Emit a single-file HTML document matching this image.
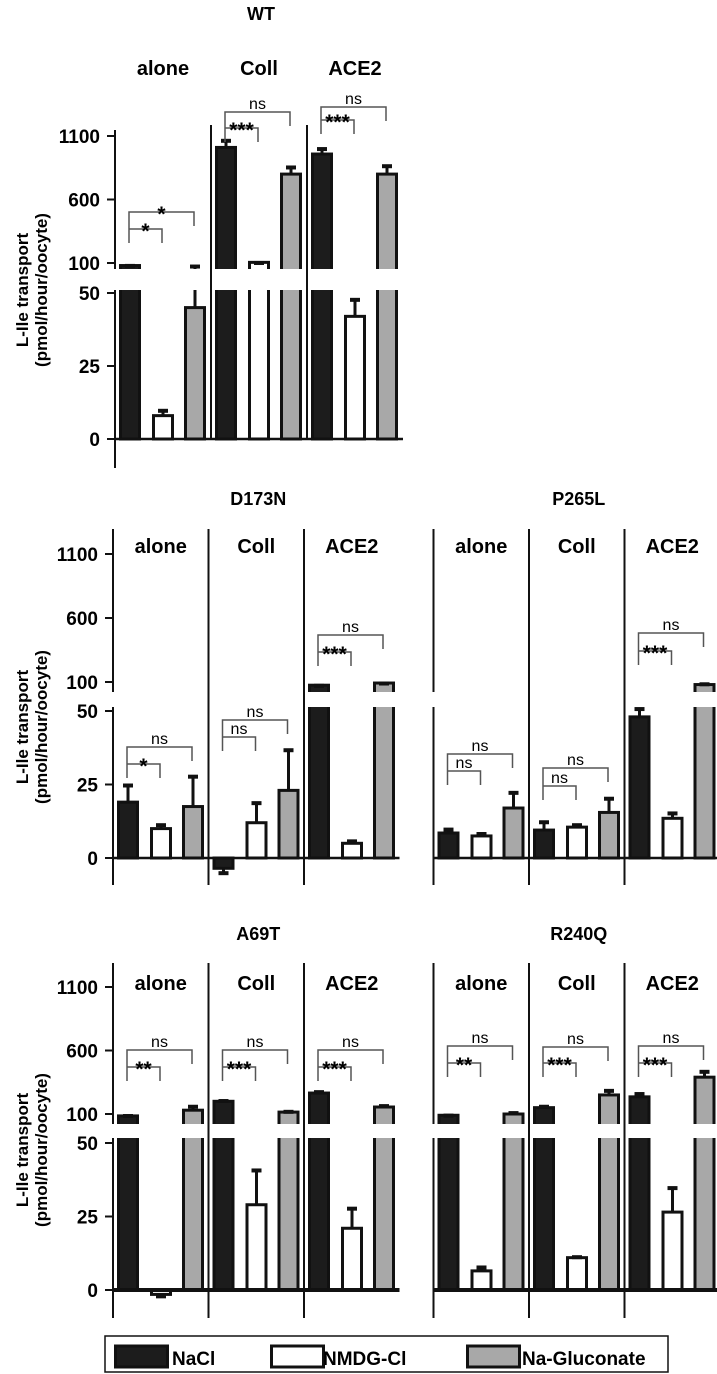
<!DOCTYPE html>
<html><head><meta charset="utf-8"><style>
html,body{margin:0;padding:0;background:#fff;}
svg{display:block;font-family:"Liberation Sans",Arial,sans-serif;}
</style></head><body>
<svg id="chart" width="717" height="1374" viewBox="0 0 717 1374" xmlns="http://www.w3.org/2000/svg"></svg>
<script>
const groups = ['alone','Coll','ACE2'];
const seriesNames = ['NaCl','NMDG-Cl','Na-Gluconate'];
const yTickLabels = ['1100','600','100','50','25','0'];
const yTickValues = [1100,600,100,50,25,0];
const wtMeans = [[80,8,45],[1010,105,800],[958,42,800]];
const wtErrs = [[5,2,35],[60,3,60],[47,6,70]];
const wtSig = [['*','*'],['***','ns'],['***','ns']];
const d173nMeans = [[19,10,17.5],[-3.5,12,23],[75,5,92]];
const d173nErrs = [[6,1.5,10.5],[-2,7,14],[3,1,4]];
const d173nSig = [['*','ns'],['ns','ns'],['***','ns']];
const p265lMeans = [[8.5,7.5,17],[9.5,10.5,15.5],[48,13.5,80]];
const p265lErrs = [[1.5,1,5.5],[3,1,5],[3,2,10]];
const p265lSig = [['ns','ns'],['ns','ns'],['***','ns']];
const a69tMeans = [[85,-1.5,130],[200,29,115],[265,21,155]];
const a69tErrs = [[7,-1,35],[10,12,10],[15,7,15]];
const a69tSig = [['**','ns'],['***','ns'],['***','ns']];
const r240qMeans = [[90,6.5,100],[150,11,250],[235,26.5,390]];
const r240qErrs = [[5,1.5,15],[15,0.5,40],[30,8.5,50]];
const r240qSig = [['**','ns'],['***','ns'],['***','ns']];

const fills = ['#1c1c1c','#ffffff','#a8a8a8'];
const NS = 'http://www.w3.org/2000/svg';
const svg = document.getElementById('chart');
function mk(tag, attrs, parent){const e=document.createElementNS(NS,tag);for(const k in attrs)e.setAttribute(k,attrs[k]);(parent||svg).appendChild(e);return e;}
function txt(s, attrs, parent){const e=mk('text',attrs,parent);e.textContent=s;return e;}

const row2 = {gw:95.5, top:529, bottom:885, divTop:529, divBottom:885, y0:858,y50:711,y100:682,y1100:554, band:[692,707], titleY:505, subY:553, zw:2.5, labY:727};
const row3 = {gw:95.5, top:963, bottom:1318, divTop:963, divBottom:1318, y0:1290,y50:1143,y100:1114,y1100:987, band:[1124,1138], titleY:940, subY:990, zw:4, labY:1150};
const panels = [
 {name:'WT', means:wtMeans, errs:wtErrs, sig:wtSig, left:true, L:{ax:115, gw:96, top:130, bottom:468, divTop:125, divBottom:439, y0:439,y50:293,y100:263,y1100:136, band:[269,290], titleY:20, subY:75, zw:2.5, labY:290, br:[[212,229],[112,128],[107,120]]}},
 {name:'D173N', means:d173nMeans, errs:d173nErrs, sig:d173nSig, left:true, L:Object.assign({ax:113, br:[[747,764],[720,737],[635,652]]},row2)},
 {name:'P265L', means:p265lMeans, errs:p265lErrs, sig:p265lSig, left:false, L:Object.assign({ax:433.5, br:[[754,771],[768,786],[633,651]]},row2)},
 {name:'A69T', means:a69tMeans, errs:a69tErrs, sig:a69tSig, left:true, L:Object.assign({ax:113, br:[[1050,1067],[1050,1067],[1050,1067]]},row3)},
 {name:'R240Q', means:r240qMeans, errs:r240qErrs, sig:r240qSig, left:false, L:Object.assign({ax:433.5, br:[[1046,1063],[1047,1063],[1046,1063]]},row3)}
];
const offs=[4,37,69], bw=22;

panels.forEach(p=>{
  const L=p.L;
  const g=mk('g',{});
  
  
  const y=v=> v<=60 ? L.y0 - v*(L.y0-L.y50)/50 : L.y100 - (v-100)*(L.y100-L.y1100)/1000;
  const end=L.ax+3*L.gw;
  const t=txt(p.name,{x:L.ax+1.5*L.gw+2,y:L.titleY,'text-anchor':'middle','font-size':18,'font-weight':'bold'},g);
  
  
  p.means.forEach((row,gi)=>{
    row.forEach((m,si)=>{
      const x=L.ax+gi*L.gw+offs[si];
      const y0=y(0), ym=y(m);
      const b=mk('rect',{x:x+1.5,y:Math.min(y0,ym),width:bw-3,height:Math.max(1,Math.abs(y0-ym)),fill:fills[si],stroke:'#111','stroke-width':3},g);
      
      
      const e=p.errs[gi][si];
      const ye=y(m+e), cx=x+bw/2;
      const el=mk('line',{x1:cx,x2:cx,y1:ym,y2:ye,stroke:'#111','stroke-width':3},g);
      
      
      mk('rect',{x:cx-5,y:(e>=0?ye-1:ye-3),width:10,height:4,fill:'#111'},g);
    });
  });
  const z=mk('line',{x1:L.ax,x2:end,y1:L.y0,y2:L.y0,stroke:'#111','stroke-width':L.zw},g);
  
  
  mk('rect',{x:L.ax-12,y:L.band[0],width:end-L.ax+14,height:L.band[1]-L.band[0],fill:'#fff'},g);
  const ax=mk('path',{d:`M${L.ax},${L.top}V${L.band[0]}M${L.ax},${L.band[1]}V${L.bottom}`,stroke:'#111','stroke-width':2,fill:'none'},g);
  
  
  if(p.left){
    yTickValues.forEach((v,i)=>{
      mk('line',{x1:L.ax-8,x2:L.ax,y1:y(v),y2:y(v),stroke:'#111','stroke-width':2},g);
      const tl=txt(yTickLabels[i],{x:L.ax-15,y:y(v)+7,'text-anchor':'end','font-size':19,'font-weight':'bold'},g);
      
      
    });
    const cy=L.labY;
    const a=txt('L-Ile transport',{x:0,y:0,'text-anchor':'middle','font-size':17,'font-weight':'bold',transform:`translate(28,${cy}) rotate(-90)`},g);
    
    
    const a2=txt('(pmol/hour/oocyte)',{x:0,y:0,'text-anchor':'middle','font-size':17,'font-weight':'bold',transform:`translate(47,${cy}) rotate(-90)`},g);
    
    
  }
  groups.forEach((gn,gi)=>{
    const gx=L.ax+gi*L.gw;
    if(gi>0){
      const d=mk('line',{x1:gx,x2:gx,y1:L.divTop,y2:L.divBottom,stroke:'#111','stroke-width':2},g);
      
      
    }
    const s=txt(gn,{x:gx+L.gw/2,y:L.subY,'text-anchor':'middle','font-size':20,'font-weight':'bold'},g);
    
    
    const c=offs.map(o=>gx+o+bw/2-1);
    const [oy,iy]=L.br[gi];
    const br=mk('path',{d:`M${c[0]},${iy+14}V${oy}H${c[2]}V${oy+14}M${c[0]},${iy}H${c[1]}V${iy+14}`,stroke:'#555','stroke-width':1.5,fill:'none'},g);
    
    
    const [il,ol]=p.sig[gi];
    const fs=l=>l==='ns'?16:21;
    const t1=txt(il,{x:(c[0]+c[1])/2,y:iy-(il==='ns'?3:-9),'text-anchor':'middle','font-size':fs(il),'font-weight':il==='ns'?'normal':'bold'},g);
    
    
    const t2=txt(ol,{x:(c[0]+c[2])/2,y:oy-(ol==='ns'?3:-9),'text-anchor':'middle','font-size':fs(ol),'font-weight':ol==='ns'?'normal':'bold'},g);
    
    
  });
});
const lg=mk('g',{});


mk('rect',{x:105,y:1336,width:563,height:36,fill:'#fff',stroke:'#111','stroke-width':1.5},lg);
const swX=[114,270,466], txX=[172,323,522];
seriesNames.forEach((n,i)=>{
  const sw=mk('rect',{x:swX[i]+1.5,y:1346,width:52,height:21,fill:fills[i],stroke:'#111','stroke-width':3},lg);
  
  
  const t=txt(n,{x:txX[i],y:1365,'font-size':19,'font-weight':'bold'},lg);
  
  
});
</script>
</body></html>
